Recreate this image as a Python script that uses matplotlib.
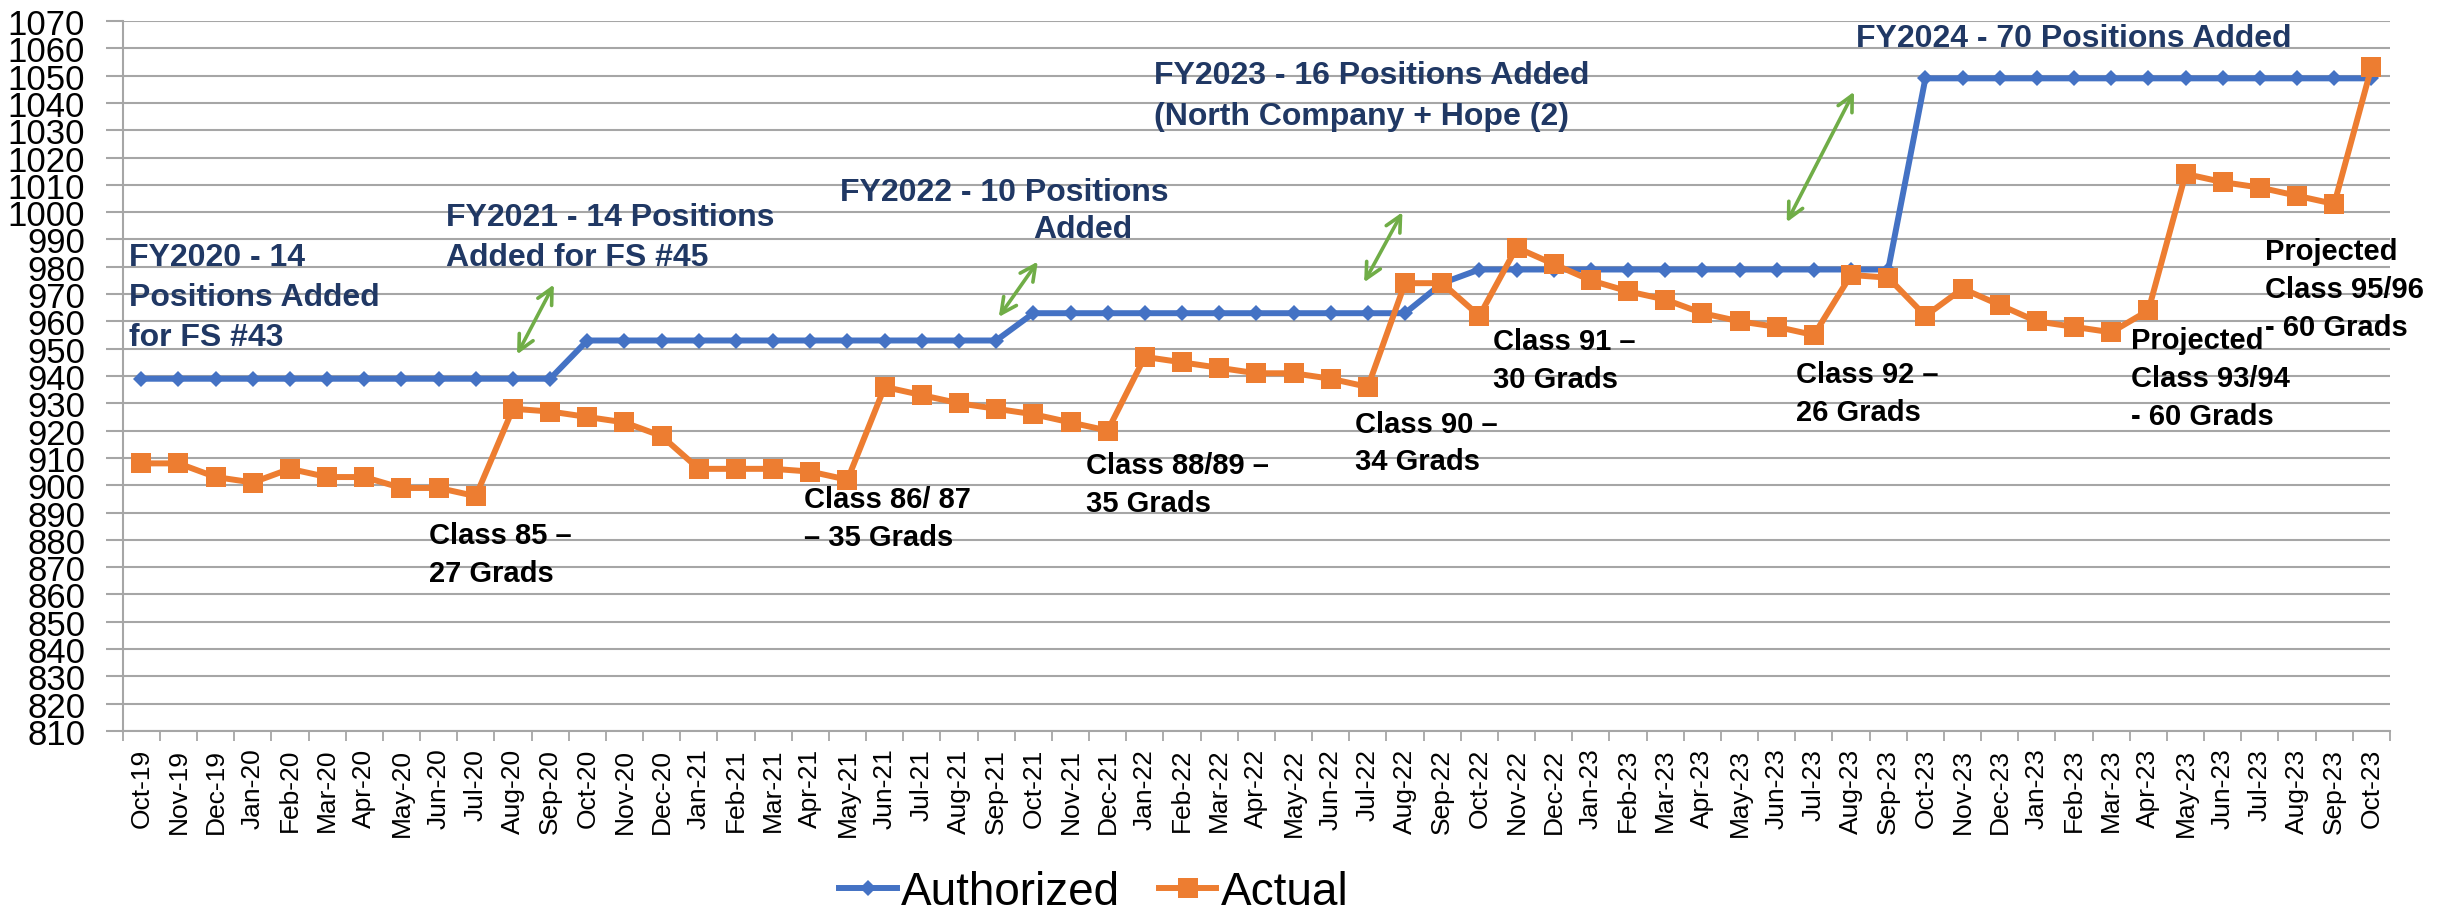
import matplotlib
matplotlib.use("Agg")
import matplotlib.pyplot as plt
from matplotlib.ticker import FixedLocator, MultipleLocator

plt.rcParams['font.family'] = ['Liberation Sans', 'DejaVu Sans']

# ---------------- data ----------------
months = ['Oct-19', 'Nov-19', 'Dec-19', 'Jan-20', 'Feb-20', 'Mar-20', 'Apr-20', 'May-20', 'Jun-20', 'Jul-20', 'Aug-20', 'Sep-20',
          'Oct-20', 'Nov-20', 'Dec-20', 'Jan-21', 'Feb-21', 'Mar-21', 'Apr-21', 'May-21', 'Jun-21', 'Jul-21', 'Aug-21', 'Sep-21',
          'Oct-21', 'Nov-21', 'Dec-21', 'Jan-22', 'Feb-22', 'Mar-22', 'Apr-22', 'May-22', 'Jun-22', 'Jul-22', 'Aug-22', 'Sep-22',
          'Oct-22', 'Nov-22', 'Dec-22', 'Jan-23', 'Feb-23', 'Mar-23', 'Apr-23', 'May-23', 'Jun-23', 'Jul-23', 'Aug-23', 'Sep-23',
          'Oct-23', 'Nov-23', 'Dec-23', 'Jan-23', 'Feb-23', 'Mar-23', 'Apr-23', 'May-23', 'Jun-23', 'Jul-23', 'Aug-23', 'Sep-23', 'Oct-23']

authorized = [939, 939, 939, 939, 939, 939, 939, 939, 939, 939, 939, 939,
              953, 953, 953, 953, 953, 953, 953, 953, 953, 953, 953, 953,
              963, 963, 963, 963, 963, 963, 963, 963, 963, 963, 963, 974,
              979, 979, 979, 979, 979, 979, 979, 979, 979, 979, 979, 979,
              1049, 1049, 1049, 1049, 1049, 1049, 1049, 1049, 1049, 1049, 1049, 1049, 1049]

actual = [908, 908, 903, 901, 906, 903, 903, 899, 899, 896, 928, 927,
          925, 923, 918, 906, 906, 906, 905, 902, 936, 933, 930, 928,
          926, 923, 920, 947, 945, 943, 941, 941, 939, 936, 974, 974,
          962, 987, 981, 975, 971, 968, 963, 960, 958, 955, 977, 976,
          962, 972, 966, 960, 958, 956, 964, 1014, 1011, 1009, 1006, 1003, 1053]

series_names = ['Authorized', 'Actual']

fy_notes = [
    ("FY2020 - 14\nPositions Added\nfor FS #43", -0.33, 989.2),
    ("FY2021 - 14 Positions\nAdded for FS #45", 8.2, 1003.9),
    ("FY2022 - 10 Positions", 18.8, 1013.0),
    ("Added", 24.0, 999.3),
    ("FY2023 - 16 Positions Added\n(North Company + Hope (2)", 27.25, 1055.6),
    ("FY2024 - 70 Positions Added", 46.12, 1069.3),
]

class_notes = [
    ("Class 85 –\n27 Grads", 7.74, 887.0),
    ("Class 86/ 87\n– 35 Grads", 17.83, 900.2),
    ("Class 88/89 –\n35 Grads", 25.41, 912.6),
    ("Class 90 –\n34 Grads", 32.65, 927.7),
    ("Class 91 –\n30 Grads", 36.37, 958.0),
    ("Class 92 –\n26 Grads", 44.51, 946.0),
    ("Projected\nClass 93/94\n- 60 Grads", 53.52, 958.4),
    ("Projected\nClass 95/96\n- 60 Grads", 57.13, 991.0),
]

arrows = [
    ((10.11, 947.9), (11.10, 973.5)),
    ((23.07, 961.6), (24.12, 981.9)),
    ((32.90, 974.3), (33.93, 1000.0)),
    ((44.27, 996.3), (46.08, 1044.1)),
]

# ---------------- figure ----------------
W, H = 2453, 912
fig = plt.figure(figsize=(W / 100, H / 100), dpi=100)
ax_l, ax_r, ax_t, ax_b = 122.7, 2390, 22, 732
ax = fig.add_axes([ax_l / W, 1 - ax_b / H, (ax_r - ax_l) / W, (ax_b - ax_t) / H])

x = list(range(len(months)))
blue = '#4472C4'
orange = '#ED7D31'
grid_c = '#A6A6A6'

l1, = ax.plot(x, authorized, color=blue, lw=4.3, marker='D', markersize=8.5,
              markeredgewidth=0, zorder=3, label=series_names[0], clip_on=False)
l2, = ax.plot(x, actual, color=orange, lw=4.3, marker='s', markersize=14.5,
              markeredgewidth=0, zorder=4, label=series_names[1], clip_on=False)

ax.set_xlim(-0.5, len(months) - 0.5)
ax.set_ylim(810, 1070)
ax.yaxis.set_major_locator(MultipleLocator(10))
ax.grid(axis='y', color=grid_c, lw=1.5, zorder=0)
ax.set_axisbelow(True)

ax.set_xticks(x)
ax.set_xticklabels(months, rotation=90, fontsize=19)
ax.xaxis.set_minor_locator(FixedLocator([i - 0.5 for i in range(len(months) + 1)]))
ax.tick_params(axis='x', which='major', length=0, pad=12)
ax.tick_params(axis='x', which='minor', length=7, width=1.3, color=grid_c)
ax.tick_params(axis='y', which='major', length=12, width=1.5, color=grid_c, labelsize=25, pad=15)

for s in ['top', 'right']:
    ax.spines[s].set_visible(False)
for s in ['left', 'bottom']:
    ax.spines[s].set_color(grid_c)
    ax.spines[s].set_linewidth(1.5)

navy = '#203864'
for txt, tx, ty in fy_notes:
    ax.text(tx, ty, txt, fontsize=23, fontweight='bold', color=navy,
            ha='left', va='top', linespacing=1.45, zorder=5)
for txt, tx, ty in class_notes:
    ax.text(tx, ty, txt, fontsize=21, fontweight='bold', color='black',
            ha='left', va='top', linespacing=1.45, zorder=5)

for (p0, p1) in arrows:
    ax.annotate('', xy=p1, xytext=p0,
                arrowprops=dict(arrowstyle='<->', color='#70AD47', lw=2.6,
                                mutation_scale=28, shrinkA=0, shrinkB=0),
                zorder=5)

fig.legend(handles=[l1, l2], loc='center', bbox_to_anchor=(0.446, 0.021),
           ncol=2, frameon=False, fontsize=33, handlelength=1.25,
           handletextpad=0.1, columnspacing=0.85, borderaxespad=0)

fig.savefig('out.png', dpi=100)
